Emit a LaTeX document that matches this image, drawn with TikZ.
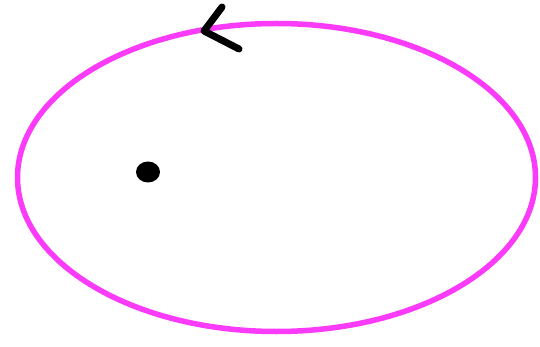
\documentclass[tikz,border=0pt]{standalone}
\definecolor{orbit}{RGB}{250,60,250}
\begin{document}
\begin{tikzpicture}[x=1pt,y=-1pt,
  orbitline/.style={draw=orbit,line width=5.5pt},
  penline/.style={draw=black,line width=7pt,line cap=round,line join=round}]
\useasboundingbox (0,0) rectangle (540,347);
\draw[orbitline] (276.5,177.5) ellipse [x radius=259, y radius=154];
\fill[black] (148,172) ellipse [x radius=12, y radius=10.5];
\coordinate (tipA) at (222,7);
\coordinate (tipV) at (204,31);
\coordinate (tipB) at (239,49);
\draw[penline] (tipA) -- (tipV) -- (tipB);
\end{tikzpicture}
\end{document}
